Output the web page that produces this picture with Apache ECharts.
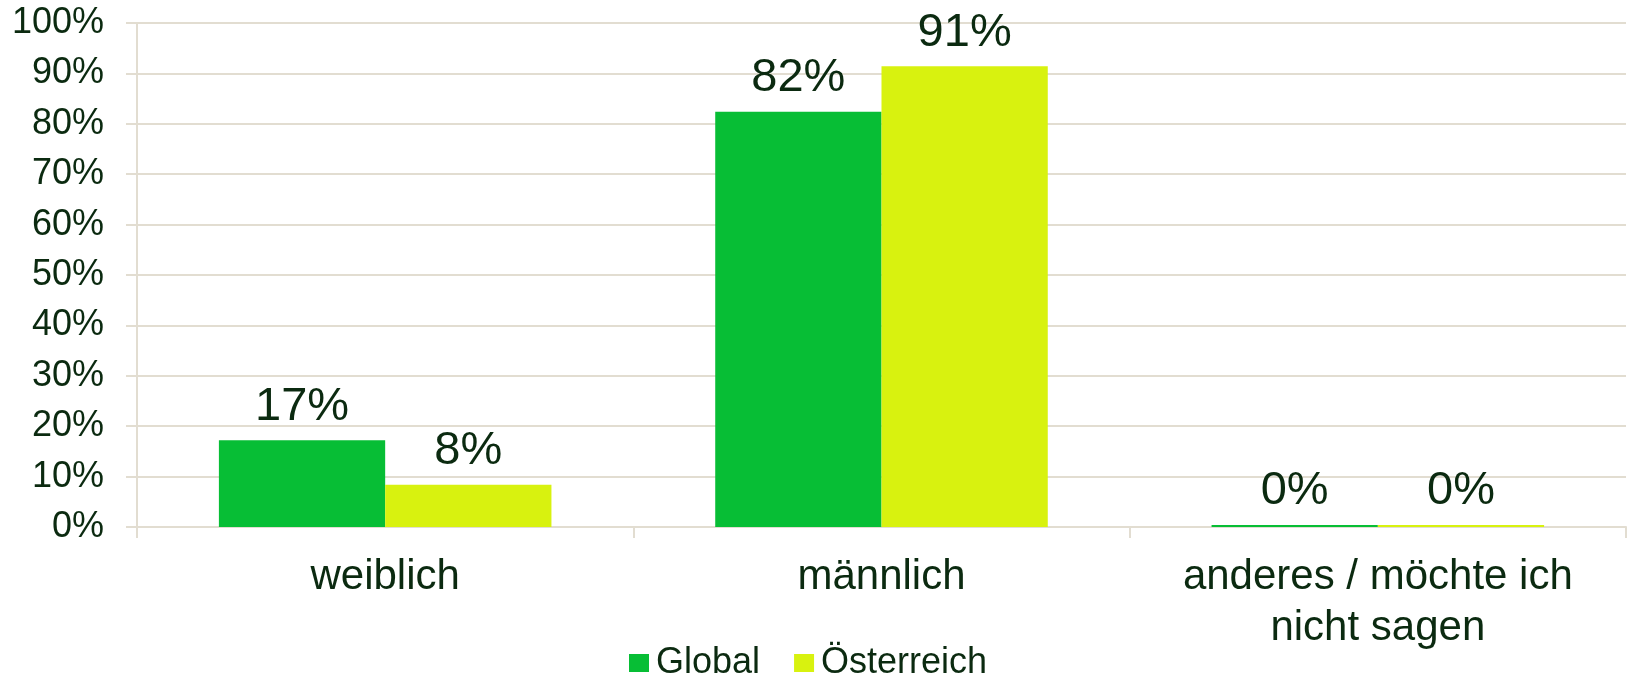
<!DOCTYPE html>
<html>
<head>
<meta charset="utf-8">
<script src="https://cdn.jsdelivr.net/npm/echarts@6/dist/echarts.min.js"></script>
<style>
  html, body { margin: 0; padding: 0; background: #ffffff; }
  #chart { width: 1629px; height: 683px; }
</style>
</head>
<body>
<div id="chart"></div>
<script>
// Kategorien und Werte (in %)
const categories = ['weiblich', 'männlich', 'anderes / möchte ich\nnicht sagen']
const seriesNames = ['Global', 'Österreich']
const globalValues = [17.2, 82.4, 0.4]
const austriaValues = [8.4, 91.4, 0.4]

const textColor = '#0b2a10'
const lineColor = '#e2ddd1'
const font = 'Liberation Sans, Arial, sans-serif'

const chart = echarts.init(document.getElementById('chart'))

const barLabel = {
  show: true,
  position: 'top',
  distance: 10,
  color: textColor,
  fontFamily: font,
  fontSize: 47,
  formatter: (p) => Math.round(p.value) + '%'
}

const option = {
  animation: false,
  backgroundColor: '#ffffff',
  textStyle: { fontFamily: font, color: textColor },
  grid: {
    left: 137,
    right: 3,
    top: 23,
    bottom: 156
  },
  legend: {
    data: seriesNames,
    left: 624,
    top: 640,
    itemWidth: 20,
    itemHeight: 18,
    itemGap: 34,
    icon: 'rect',
    textStyle: { fontSize: 36, color: textColor, fontFamily: font, padding: [0, 0, 0, 2] }
  },
  xAxis: {
    type: 'category',
    data: categories,
    axisLine: { lineStyle: { color: lineColor, width: 2 } },
    axisTick: { show: true, length: 11, lineStyle: { color: lineColor, width: 2 } },
    axisLabel: {
      color: textColor,
      fontFamily: font,
      fontSize: 42,
      lineHeight: 51,
      margin: 25,
      interval: 0
    }
  },
  yAxis: {
    type: 'value',
    min: 0,
    max: 100,
    interval: 10,
    axisLine: { show: true, lineStyle: { color: lineColor, width: 2 } },
    axisTick: { show: true, length: 11, lineStyle: { color: lineColor, width: 2 } },
    splitLine: { show: true, lineStyle: { color: lineColor, width: 2 } },
    axisLabel: {
      color: textColor,
      fontFamily: font,
      fontSize: 36,
      margin: 33,
      formatter: '{value}%'
    }
  },
  series: [
    {
      name: seriesNames[0],
      type: 'bar',
      data: globalValues,
      barGap: '0%',
      barCategoryGap: '33%',
      itemStyle: { color: '#07be35' },
      label: barLabel
    },
    {
      name: seriesNames[1],
      type: 'bar',
      data: austriaValues,
      itemStyle: { color: '#d8f20f' },
      label: barLabel
    }
  ]
}

chart.setOption(option)
</script>
</body>
</html>
